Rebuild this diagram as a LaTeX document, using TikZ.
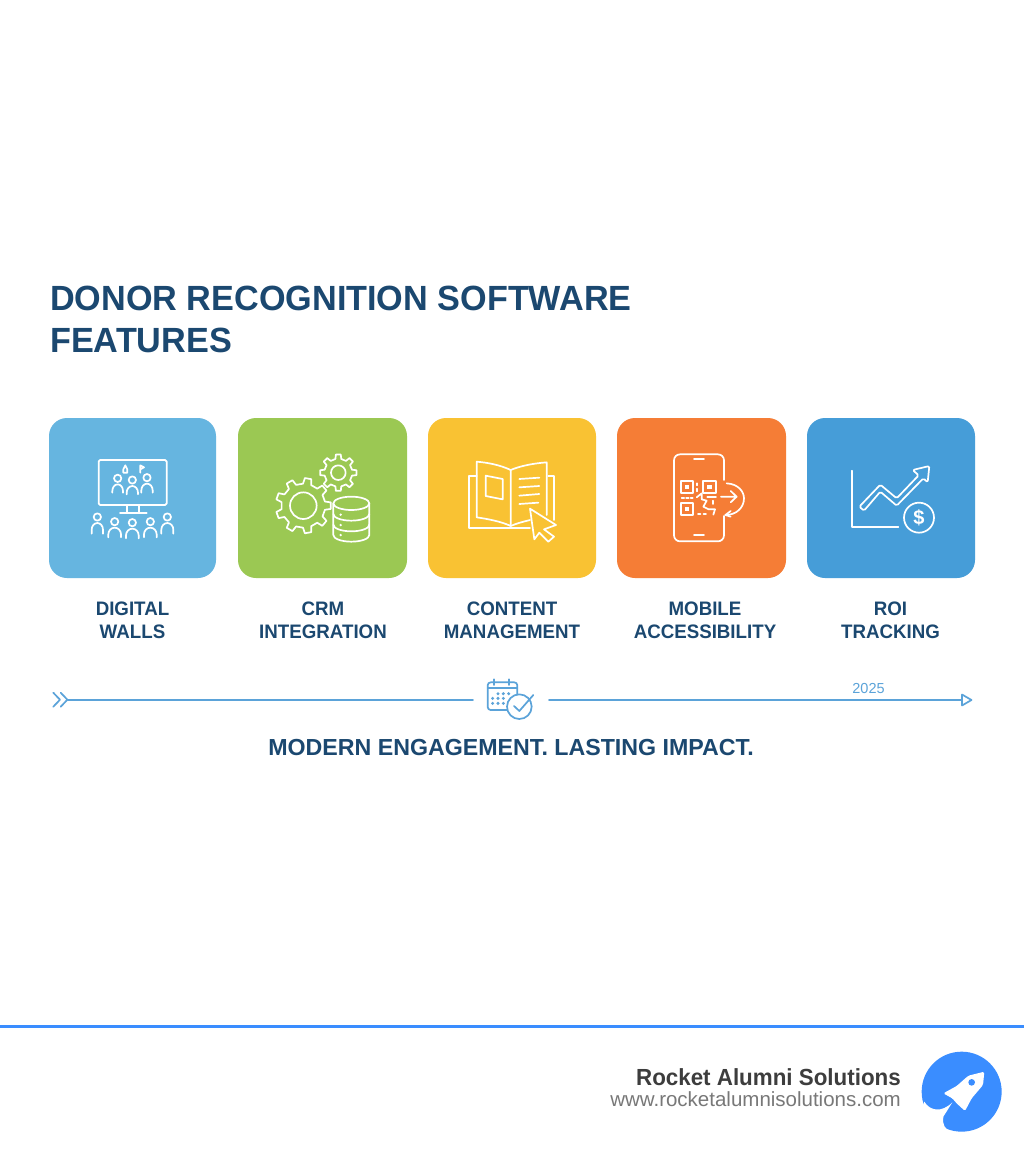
\documentclass[tikz,border=0pt]{standalone}
\usepackage{fontspec}
\setmainfont{Liberation Sans}
\newfontfamily\titlef[FakeStretch=0.977]{Liberation Sans}
\newfontfamily\capf[FakeStretch=0.96]{Liberation Sans}
\newfontfamily\brandf[FakeStretch=0.96]{Liberation Sans}
\definecolor{navy}{HTML}{1B4870}
\definecolor{tileA}{HTML}{66B5E0}
\definecolor{tileB}{HTML}{9BC853}
\definecolor{tileC}{HTML}{F9C233}
\definecolor{tileD}{HTML}{F57D36}
\definecolor{tileE}{HTML}{469DD8}
\definecolor{tline}{HTML}{5BA3D9}
\definecolor{brand}{HTML}{3A8DFF}
\tikzset{
  tilebox/.style={rectangle,rounded corners=18pt,minimum height=160pt,inner sep=0pt,draw=none},
  caption/.style={font=\capf\fontsize{19.5}{22.6}\selectfont\bfseries,text=navy,align=center,inner sep=0pt},
  ico/.style={draw=white,line width=1.7pt,line join=round,line cap=round},
  zoomed/.style={x=0.33333pt,y=-0.33333pt},
  tl/.style={draw=tline,line width=1.7pt,line join=round,line cap=round},
}
% person icon: head centre, half width, body depth
\newcommand{\personico}[4]{%
  \draw[ico] (#1,#2) circle [radius=11];
  \draw[ico] (#1-#3,#2+#4) -- (#1-#3,#2+38) arc[start angle=180,end angle=360,x radius=#3,y radius=20] -- (#1+#3,#2+#4);
}
\newcommand{\gearico}[6]{% cx cy outer root teeth hole
  \begin{scope}[shift={(#1,#2)}]
    \pgfmathsetmacro{\st}{360/#5}
    \pgfmathsetmacro{\lastt}{#5-1}
    \draw[ico] (-0.27*\st:#4)
      \foreach \k in {0,...,\lastt} {
        -- (\k*\st-0.27*\st:#4) -- (\k*\st-0.17*\st:#3) -- (\k*\st+0.17*\st:#3) -- (\k*\st+0.27*\st:#4)
      } -- cycle;
    \draw[ico] (0,0) circle [radius=#6];
  \end{scope}
}
\begin{document}
\begin{tikzpicture}[x=1pt,y=-1pt]
\useasboundingbox[fill=white] (0,0) rectangle (1024,1154);

% title
\node[anchor=base west,inner sep=0pt,text=navy,font=\titlef\fontsize{35}{35}\selectfont\bfseries] (title1) at (50,310.7) {DONOR RECOGNITION SOFTWARE};
\node[anchor=base west,inner sep=0pt,text=navy,font=\titlef\fontsize{35}{35}\selectfont\bfseries] (title2) at (50,352.3) {FEATURES};

% tiles
\node[tilebox,fill=tileA,minimum width=167pt] (t1) at (132.5,498) {};
\node[tilebox,fill=tileB,minimum width=169pt] (t2) at (322.5,498) {};
\node[tilebox,fill=tileC,minimum width=168pt] (t3) at (512,498) {};
\node[tilebox,fill=tileD,minimum width=169pt] (t4) at (701.5,498) {};
\node[tilebox,fill=tileE,minimum width=168pt] (t5) at (891,498) {};

% captions
\node[caption] (c1) at (132.5,620) {DIGITAL\\WALLS};
\node[caption] (c2) at (323,620) {CRM\\INTEGRATION};
\node[caption] (c3) at (512,620) {CONTENT\\MANAGEMENT};
\node[caption] (c4) at (705,620) {MOBILE\\ACCESSIBILITY};
\node[caption] (c5) at (890.5,620) {ROI\\TRACKING};

% icon 1
\begin{scope}[shift={(40,410)},zoomed]
  \draw[ico,rounded corners=1.5pt] (176,150) rectangle (380,285);
  \draw[ico] (262,285) -- (262,308) (298,285) -- (298,308) (240,309) -- (320,309);
  \personico{233}{205}{16}{43}
  \personico{277}{210}{17}{43}
  \personico{321}{203}{17}{45}
  \personico{172}{321}{17}{50}
  \personico{224}{335}{19}{47}
  \personico{277}{338}{19}{47}
  \personico{331}{335}{19}{47}
  \personico{382}{321}{18}{50}
  \draw[ico] (250,188) -- (250,178) -- (256,166) -- (262,178) -- (262,188) -- cycle;
  \draw[ico] (301,188) -- (301,166) -- (312,172) -- (301,178);
\end{scope}

% icon 2
\begin{scope}[shift={(40,410)},zoomed]
  \gearico{790}{287}{83}{66}{9}{40}
  \gearico{895}{188}{55}{42}{8}{22}
  \draw[ico] (934,280) ellipse [x radius=54,y radius=20];
  \draw[ico] (880,280) -- (880,375) arc[start angle=180,end angle=360,x radius=54,y radius=-20] -- (988,280);
  \draw[ico] (880,312) arc[start angle=180,end angle=360,x radius=54,y radius=-20];
  \draw[ico] (880,344) arc[start angle=180,end angle=360,x radius=54,y radius=-20];
  \fill[white] (902,314) circle [radius=4] (902,345) circle [radius=4] (902,375) circle [radius=4];
\end{scope}

% icon 3
\begin{scope}[shift={(420,410)},zoomed]
  \draw[ico] (170,198) -- (147,198) -- (147,355) -- (330,355);
  \draw[ico] (385,198) -- (403,198) -- (403,330);
  \draw[ico] (272,180) .. controls (240,165) and (205,158) .. (170,155) -- (170,322) .. controls (205,327) and (245,335) .. (272,348) -- cycle;
  \draw[ico] (272,180) .. controls (300,168) and (340,160) .. (380,157) -- (380,315);
  \draw[ico] (272,348) .. controls (290,340) and (310,335) .. (330,330);
  \draw[ico] (197,197) -- (248,207) -- (248,268) -- (197,258) -- cycle;
  \draw[ico] (298,207) -- (358,203) (298,232) -- (358,228) (298,257) -- (358,252) (298,282) -- (355,278);
  \draw[ico,fill=tileC] (330,296) -- (408,345) -- (372,358) -- (402,380) -- (385,395) -- (358,368) -- (343,388) -- cycle;
\end{scope}

% icon 4
\begin{scope}[shift={(420,410)},zoomed]
  \draw[ico,rounded corners=6pt] (912,210) -- (912,133) -- (762,133) -- (762,394) -- (912,394) -- (912,318);
  \draw[ico] (822,148) -- (852,148) (822,375) -- (852,375);
  \foreach \fx/\fy in {782/212,850/212,782/278}{
    \draw[ico] (\fx,\fy) rectangle ++(38,37);
    \fill[white] (\fx+12,\fy+12) rectangle ++(14,13);
  }
  \draw[ico,dash pattern=on 2.5pt off 2pt] (785,263) -- (818,263);
  \draw[ico] (832,220) -- (832,226) (832,236) -- (832,244);
  \draw[ico] (830,262) -- (845,250) -- (845,268) -- (860,272) -- (850,290) -- (866,298) -- (885,298) -- (880,314);
  \draw[ico] (862,262) -- (888,262) (880,272) -- (880,282);
  \draw[ico,dash pattern=on 2.5pt off 3pt] (834,312) -- (866,312);
  \draw[ico] (903,260) -- (950,260) (932,243) -- (950,260) -- (932,277);
  \draw[ico] (920,220) .. controls (955,222) and (972,245) .. (972,265) .. controls (972,292) and (950,315) .. (916,315);
  \draw[ico] (932,303) -- (916,315) -- (932,320);
\end{scope}

% icon 5
\begin{scope}[shift={(800,410)},zoomed]
  \draw[ico] (155,182) -- (155,351) -- (295,351);
  \draw[ico,rounded corners=1.5pt] (178,290) -- (241,224) -- (290,265) -- (356,196) -- (338,180) -- (388,168) -- (383,217) -- (370,205) -- (290,287) -- (241,245) -- (192,302) -- cycle;
  \draw[ico] (357,323) circle [radius=45];
  \node[text=white,inner sep=0pt,font=\fontsize{20}{20}\selectfont\bfseries] (dollar) at (357,323) {\$};
\end{scope}

% timeline
\coordinate (la) at (68,700);
\coordinate (lb) at (473,700);
\coordinate (ra) at (549,700);
\coordinate (rb) at (962,700);
\draw[tl] (la) -- (lb);
\draw[tl] (ra) -- (rb);
\draw[tl] (53.3,692.7) -- (60,699.7) -- (53.3,706.7);
\draw[tl] (60.7,692.7) -- (67.4,699.7) -- (60.7,706.7);
\draw[tl] (962,694.5) -- (971.5,700) -- (962,705.5) -- cycle;
\node[text=tline,inner sep=0pt,font=\fontsize{14.5}{14.5}\selectfont] (yr) at (868.5,688) {2025};

% calendar
\begin{scope}[shift={(440,670)},zoomed]
  \draw[tl,rounded corners=3pt] (200,120) -- (143,120) -- (143,37) -- (232,37) -- (232,75);
  \draw[tl] (143,55) -- (232,55);
  \draw[tl] (163,28) -- (163,45) (207,28) -- (207,45);
  \foreach \gx in {158,174,190}{\foreach \gy in {85,100}{\fill[tline] (\gx,\gy) circle [radius=5];}}
  \foreach \gx in {174,190,206}{\fill[tline] (\gx,71) circle [radius=5];}
  \draw[tl,fill=white] (238,110) circle [radius=37];
  \draw[tl] (222,108) -- (238,123) -- (280,75);
\end{scope}

% tagline
\node[anchor=base,inner sep=0pt,text=navy,font=\fontsize{23.2}{23.2}\selectfont\bfseries] (tag) at (511,755) {MODERN ENGAGEMENT. LASTING IMPACT.};

% footer
\coordinate (fa) at (0,1026);
\coordinate (fb) at (1024,1026);
\draw[draw=brand,line width=3pt] (fa) -- (fb);
\node[anchor=base east,inner sep=0pt,text=black!76,font=\brandf\fontsize{23.3}{23.3}\selectfont\bfseries] (brand1) at (901,1085.7) {Rocket Alumni Solutions};
\node[anchor=base east,inner sep=0pt,text=black!53,font=\fontsize{20.5}{20.5}\selectfont] (brand2) at (901,1106.7) {www.rocketalumnisolutions.com};

% logo
\begin{scope}[shift={(915,1045)},zoomed]
  \fill[brand] (140,140) circle [radius=120];
  \fill[white] (15,205) -- (28,170) .. controls (45,198) and (80,204) .. (112,172) -- (85,215) .. controls (80,235) and (90,255) .. (110,262) -- (15,275) -- cycle;
  \fill[white,rounded corners=1.5pt] (85,145) -- (125,123) -- (160,92) -- (208,80) -- (204,120) -- (170,160) -- (150,198) -- (125,175) -- (112,160) -- cycle;
  \fill[brand] (170,112) circle [radius=10];
\end{scope}
\end{tikzpicture}
\end{document}
